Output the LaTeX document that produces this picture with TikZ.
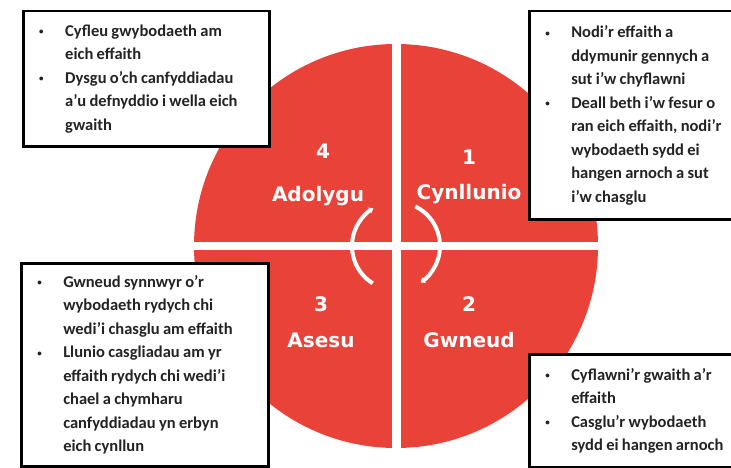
\documentclass[tikz,border=0pt]{standalone}
\usepackage{fontspec}
\setmainfont{Carlito}
\newfontfamily\stagefont{DejaVu Sans}
\usetikzlibrary{arrows.meta,positioning}
\definecolor{cyclered}{RGB}{233,66,56}
\definecolor{notetext}{RGB}{35,35,35}
\tikzset{>/.tip={Stealth[length=4.5pt,width=7pt]}}
\newcommand\notes[1]{\noindent\fontsize{16.5}{23.5}\selectfont
  \begin{tabular}{@{\hspace{16pt}}p{26pt}@{}l@{}}#1\end{tabular}}
\def\bul{\raisebox{1.5pt}{\fontsize{9}{9}\selectfont\textbullet}}

\begin{document}
\begin{tikzpicture}[x=1pt,y=1pt,node distance=36pt,on grid,
    stage/.style={text=white,font=\stagefont\bfseries\fontsize{20}{24}\selectfont,
      text height=14.6pt,text depth=0pt,inner sep=0pt},
    note/.style={draw=black,line width=2.5pt,fill=white,anchor=north west,
      inner sep=0pt,align=left,text=notetext,font=\bfseries},
    turn/.style={white,line width=4pt,->}]
        \useasboundingbox (0,0) rectangle (731,467);
        \coordinate(centre) at (396,221);
        \fill[cyclered] (centre) circle[radius=202];
        \draw[white,line width=9pt] (centre) ++(0,-206) -- ++(0,412);
        \draw[white,line width=8pt] (centre) ++(-206,0) -- ++(412,0);
        \draw[turn] (centre) ++(64:44) arc[start angle=64,end angle=-56,radius=44];
        \draw[turn] (centre) ++(238:44) arc[start angle=238,end angle=121,radius=44];
        \node(cynllunio)[stage] at (469,275){Cynllunio};
        \node(gwneud)[stage] at (469,127){Gwneud};
        \node(asesu)[stage] at (321,127){Asesu};
        \node(adolygu)[stage] at (318,273){Adolygu};
        \node(n1)[stage,above=35pt of cynllunio]{1};
        \node(n2)[stage,above=of gwneud]{2};
        \node(n3)[stage,above=of asesu]{3};
        \node(n4)[stage,above=43pt of adolygu,xshift=5pt]{4};
        \node(adolygunote)[note,text width=246pt,minimum height=135pt] at (22,457){\notes{
          \bul & Cyfleu gwybodaeth am\\ & eich effaith\\
          \bul & Dysgu o'ch canfyddiadau\\ & a'u defnyddio i wella eich\\ & gwaith}};
        \node(cynllunionote)[note,text width=210pt,minimum height=208pt] at (528,457){\notes{
          \bul & Nodi'r effaith a\\ & ddymunir gennych a\\ & sut i'w chyflawni\\
          \bul & Deall beth i'w fesur o\\ & ran eich effaith, nodi'r\\ & wybodaeth sydd ei\\
          & hangen arnoch a sut\\ & i'w chasglu}};
        \node(asesunote)[note,text width=247pt,minimum height=203pt] at (20,205){\notes{
          \bul & Gwneud synnwyr o'r\\ & wybodaeth rydych chi\\ & wedi'i chasglu am effaith\\
          \bul & Llunio casgliadau am yr\\ & effaith rydych chi wedi'i\\ & chael a chymharu\\
          & canfyddiadau yn erbyn\\ & eich cynllun}};
        \node(gwneudnote)[note,text width=210pt,minimum height=113pt] at (528,114){\notes{
          \bul & Cyflawni'r gwaith a'r\\ & effaith\\
          \bul & Casglu'r wybodaeth\\ & sydd ei hangen arnoch}};
      \end{tikzpicture}
\end{document}
